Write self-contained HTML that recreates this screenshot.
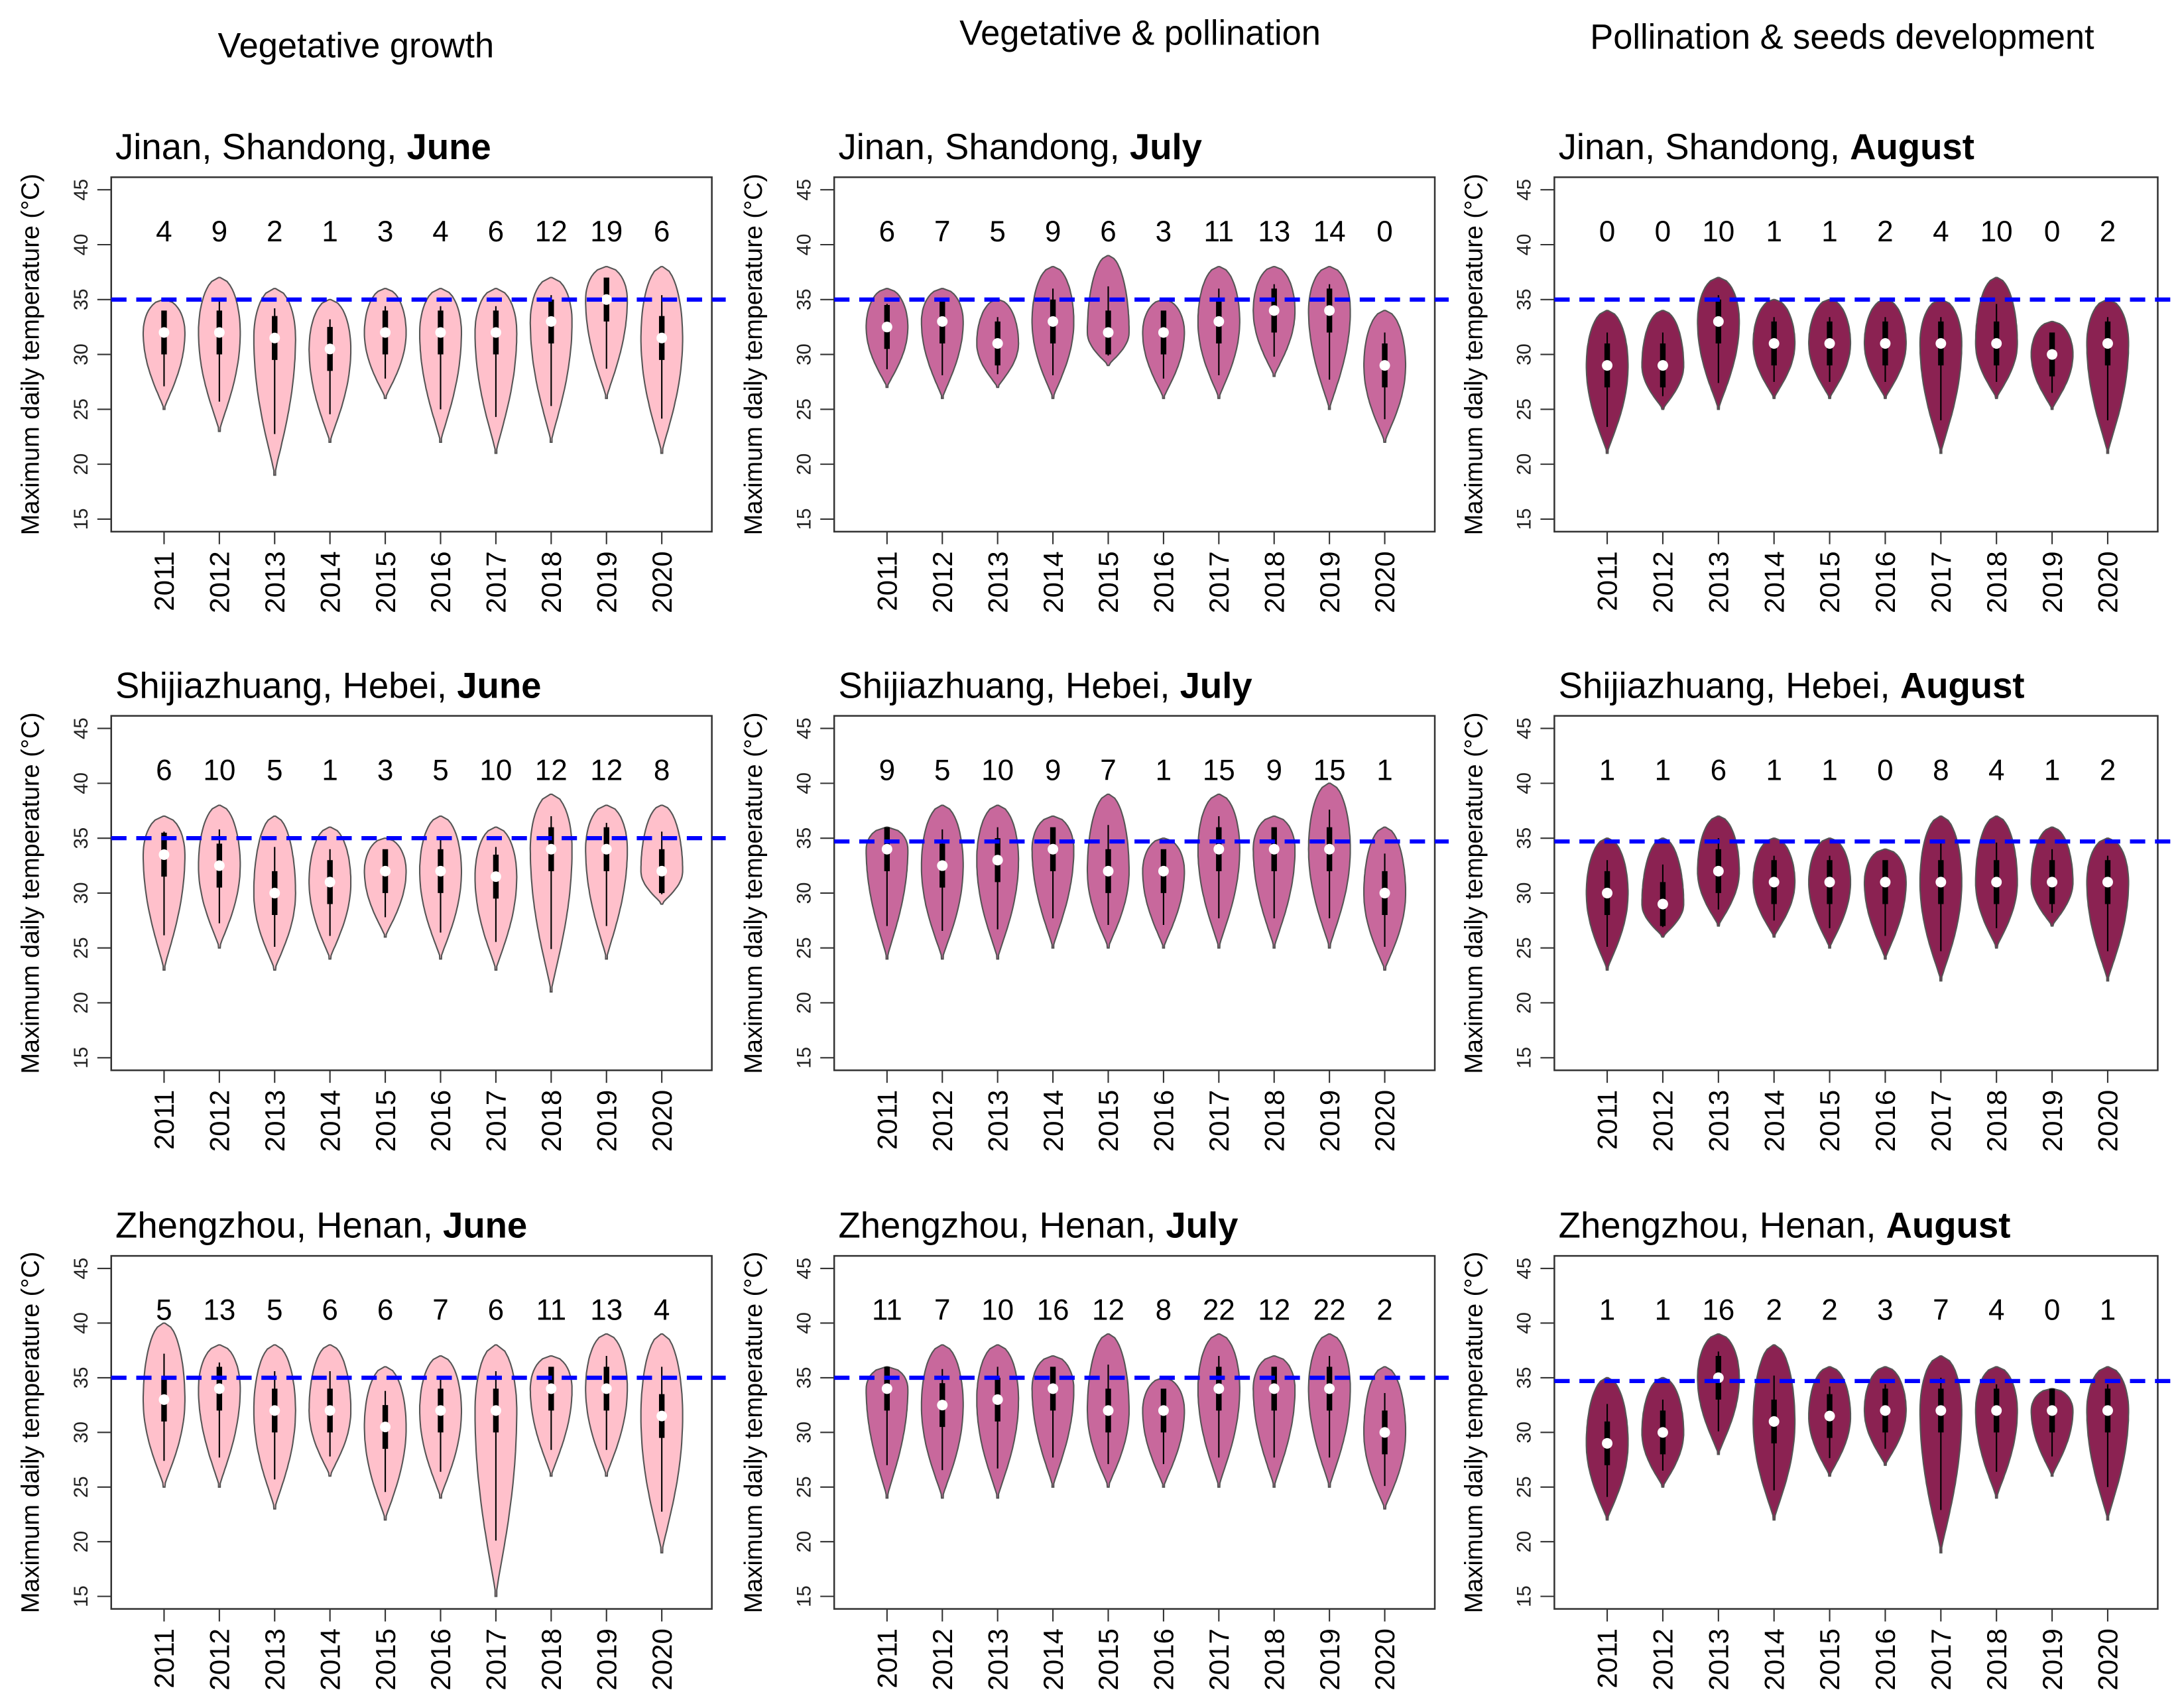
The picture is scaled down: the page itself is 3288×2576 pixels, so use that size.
<!DOCTYPE html>
<html><head><meta charset="utf-8">
<style>html,body{margin:0;padding:0;background:#fff}svg{display:block}text{font-family:"Liberation Sans",sans-serif}</style>
</head><body>
<svg id="fig" xmlns="http://www.w3.org/2000/svg" width="3288" height="2576" viewBox="0 0 1568 1224" preserveAspectRatio="none">
<text x="256" y="41" font-size="25" text-anchor="middle">Vegetative growth</text>
<text x="820" y="32" font-size="25" text-anchor="middle">Vegetative &amp; pollination</text>
<text x="1325" y="35" font-size="25" text-anchor="middle">Pollination &amp; seeds development</text>
</svg>
<script>
const years = ["2011","2012","2013","2014","2015","2016","2017","2018","2019","2020"];
const yTicks = [15,20,25,30,35,40,45];
const titles = ["Jinan, Shandong, ","Jinan, Shandong, ","Jinan, Shandong, ","Shijiazhuang, Hebei, ","Shijiazhuang, Hebei, ","Shijiazhuang, Hebei, ","Zhengzhou, Henan, ","Zhengzhou, Henan, ","Zhengzhou, Henan, "];
const months = ["June","July","August","June","July","August","June","July","August"];
const thresholds = [35,35,35,35,34.7,34.7,35,35,34.7];
const counts = [
 [4,9,2,1,3,4,6,12,19,6],[6,7,5,9,6,3,11,13,14,0],[0,0,10,1,1,2,4,10,0,2],
 [6,10,5,1,3,5,10,12,12,8],[9,5,10,9,7,1,15,9,15,1],[1,1,6,1,1,0,8,4,1,2],
 [5,13,5,6,6,7,6,11,13,4],[11,7,10,16,12,8,22,12,22,2],[1,1,16,2,2,3,7,4,0,1]];
const mins = [
 [25,23,19,22,26,22,21,22,26,21],[27,26,27,26,29,26,26,28,25,22],[21,25,25,26,26,26,21,26,25,21],
 [23,25,23,24,26,24,23,21,24,29],[24,24,24,25,25,25,25,25,25,23],[23,26,27,26,25,24,22,25,27,22],
 [25,25,23,26,22,24,15,26,26,19],[24,24,24,25,25,25,25,25,25,23],[22,25,28,22,26,27,19,24,26,22]];
const maxs = [
 [35,37,36,35,36,36,36,37,38,38],[36,36,35,38,39,35,38,38,38,34],[34,34,37,35,35,35,35,37,33,35],
 [37,38,37,36,35,37,36,39,38,38],[36,38,38,37,39,35,39,37,40,36],[35,35,37,35,35,34,37,37,36,35],
 [40,38,38,38,36,37,38,37,39,39],[36,38,38,37,39,35,39,37,39,36],[35,35,39,38,36,36,37,36,34,36]];
const medians = [
 [32,32,31.5,30.5,32,32,32,33,35,31.5],[32.5,33,31,33,32,32,33,34,34,29],[29,29,33,31,31,31,31,31,30,31],
 [33.5,32.5,30,31,32,32,31.5,34,34,32],[34,32.5,33,34,32,32,34,34,34,30],[30,29,32,31,31,31,31,31,31,31],
 [33,34,32,32,30.5,32,32,34,34,31.5],[34,32.5,33,34,32,32,34,34,34,30],[29,30,35,31,31.5,32,32,32,32,32]];
const fills = ["#FFC0CB","#C8689C","#8B2252"];
const NS="http://www.w3.org/2000/svg";
const svg=document.getElementById('fig');
const colX=[[80,512],[600,1032],[1118,1552]];
const rowY=[[127,381],[513,767],[900,1153]];
function mk(tag,attrs,parent){const e=document.createElementNS(NS,tag);for(const k in attrs)e.setAttribute(k,attrs[k]);(parent||svg).appendChild(e);return e;}
for(let p=0;p<9;p++){
  const r=Math.floor(p/3),c=p%3;
  const x0=colX[c][0],x1=colX[c][1],y0=rowY[r][0],y1=rowY[r][1];
  const g=mk('g',{});
  
  
  const yS=v=>(y1-9)-(v-15)*((y1-9)-(y0+9))/30;
  const xS=i=>(x0+38)+i*((x1-36)-(x0+38))/9;
  const t=mk('text',{x:x0+3,y:y0-13,'font-size':26},g);
  
  
  t.textContent=titles[p];
  const b=mk('tspan',{'font-weight':'bold'},t);b.textContent=months[p];
  const box=mk('rect',{x:x0,y:y0,width:x1-x0,height:y1-y0,fill:'none',stroke:'#333','stroke-width':1.2},g);
  
  
  yTicks.forEach(v=>{
    mk('line',{x1:x0-10,x2:x0,y1:yS(v),y2:yS(v),stroke:'#333'},g);
    const tl=mk('text',{x:x0-22,y:yS(v)+5,'font-size':14,'text-anchor':'middle',fill:'#222',transform:`rotate(-90 ${x0-22} ${yS(v)})`},g);
    
    
    tl.textContent=v;
  });
  const yt=mk('text',{x:x0-52,y:(y0+y1)/2,'font-size':18,'text-anchor':'middle',transform:`rotate(-90 ${x0-52} ${(y0+y1)/2})`},g);
  
  
  yt.textContent='Maximum daily temperature (°C)';
  years.forEach((yr,i)=>{
    const x=xS(i);
    mk('line',{x1:x,x2:x,y1:y1,y2:y1+9,stroke:'#333'},g);
    const lx=x+7, ly=y1+14;
    const tl=mk('text',{x:lx,y:ly,'font-size':20,'text-anchor':'end',transform:`rotate(-90 ${lx} ${ly})`},g);
    
    
    tl.textContent=yr;
    const mn=mins[p][i],mx=maxs[p][i],md=medians[p][i],W=15;
    const pts=[];const N=40;
    for(let k=0;k<=N;k++){
      const v=mn+(mx-mn)*k/N;
      let f;
      if(v<=md){const u=(md-v)/(md-mn||1);f=Math.pow(Math.max(0,1-u*u),1.2);}
      else{const u=(v-md)/(mx-md||1);f=Math.pow(Math.max(0,1-u*u),0.5);}
      pts.push([v,Math.max(0.6,W*f)]);
    }
    let d='M'+pts.map(q=>(x-q[1]).toFixed(1)+','+yS(q[0]).toFixed(1)).join(' L');
    d+=' L'+pts.slice().reverse().map(q=>(x+q[1]).toFixed(1)+','+yS(q[0]).toFixed(1)).join(' L')+' Z';
    const vp=mk('path',{d:d,fill:fills[c],stroke:'#555','stroke-width':1},g);
    
    
    mk('line',{x1:x,x2:x,y1:yS(mn+(md-mn)*0.3),y2:yS(md+(mx-md)*0.6),stroke:'#000','stroke-width':1},g);
    mk('line',{x1:x,x2:x,y1:yS(md-2),y2:yS(md+2),stroke:'#000','stroke-width':4},g);
    const dot=mk('circle',{cx:x,cy:yS(md),r:3.8,fill:'#fff'},g);
    
    
    const ct=mk('text',{x:x,y:yS(40.3),'font-size':21,'text-anchor':'middle'},g);
    
    
    ct.textContent=counts[p][i];
  });
  const th=mk('line',{x1:x0,x2:x1+10,y1:yS(thresholds[p]),y2:yS(thresholds[p]),stroke:'#0000FF','stroke-width':3,'stroke-dasharray':'11,7'},g);
  
  
}
</script>
</body></html>
